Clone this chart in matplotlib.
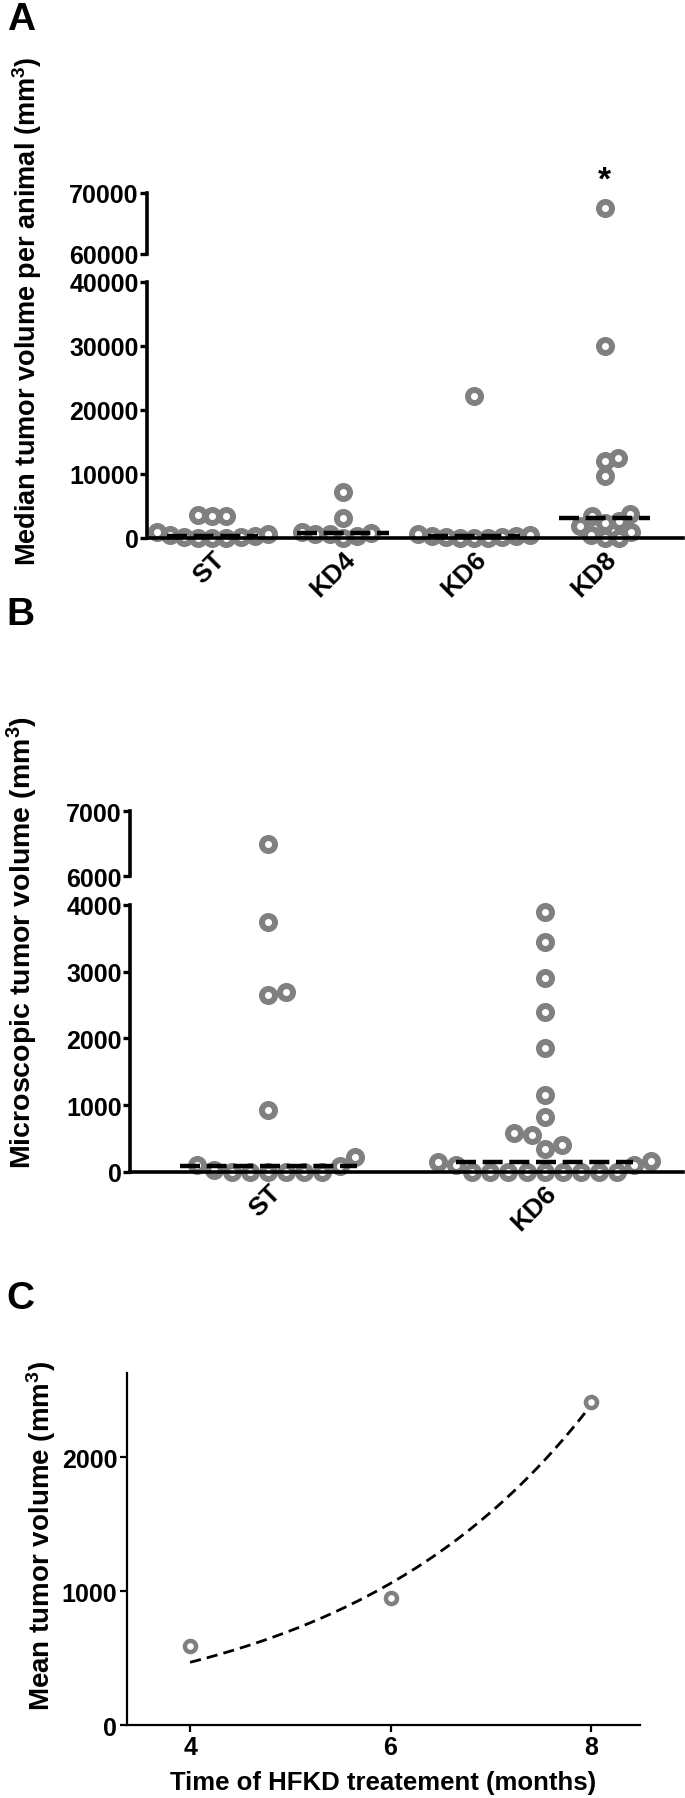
import numpy as np
import matplotlib
matplotlib.use("Agg")
from matplotlib import pyplot as plt

plt.rcParams['font.family'] = ['Liberation Sans', 'DejaVu Sans']
plt.rcParams['font.weight'] = 'bold'
plt.rcParams['mathtext.default'] = 'regular'

# ---- panel A: median tumor volume per animal (mm3)
groups_a = ["ST", "KD4", "KD6", "KD8"]
st_a = [3600, 3400, 3500, 900, 600, 400, 300, 200, 100, 0, 0, 0]
kd4_a = [7200, 3200, 1000, 800, 700, 600, 300, 0]
kd6_a = [22200, 700, 500, 300, 300, 200, 100, 0, 0, 0]
kd8_a = [67500, 30000, 12500, 12000, 9700, 3800, 3500, 2600, 2400, 1800, 1000, 500, 0, 0]
lo_ticks_a = [0, 10000, 20000, 30000, 40000]
hi_ticks_a = [60000, 70000]

# ---- panel B: microscopic tumor volume (mm3)
groups_b = ["ST", "KD6"]
st_b = [6500, 3750, 2700, 2650, 930, 220, 100, 90, 30, 0, 0, 0, 0, 0, 0]
kd6_b = [3900, 3450, 2900, 2400, 1850, 1150, 830, 580, 550, 400, 350, 160, 150, 110, 100,
         0, 0, 0, 0, 0, 0, 0, 0, 0]
lo_ticks_b = [0, 1000, 2000, 3000, 4000]
hi_ticks_b = [6000, 7000]

# ---- panel C: mean tumor volume vs time on HFKD
months = np.array([4, 6, 8])
mean_vol = np.array([590, 950, 2410])

GREY = "#808080"
MS = 9.4      # marker size (pt)
MEW = 4.3     # ring width (pt)
TICK_FS = 18


def swarm(values, px_per_val, px_per_cat, d_px=19.0):
    # simple beeswarm: each point as close to the column centre as it can go
    values = np.asarray(values, dtype=float)
    order = np.argsort(values, kind="stable")
    placed = []
    xs = np.zeros(len(values))
    for i in order:
        y = values[i] * px_per_val
        bad = []
        for px, py in placed:
            dy = abs(py - y)
            if dy < d_px:
                w = np.sqrt(d_px ** 2 - dy ** 2)
                bad.append((px - w, px + w))
        cands = [0.0] + [b[0] for b in bad] + [b[1] for b in bad]
        cands.sort(key=lambda c: (round(abs(c), 6), -c))
        x = 0.0
        for c in cands:
            if all(not (lo + 1e-6 < c < hi - 1e-6) for lo, hi in bad):
                x = c
                break
        placed.append((x, y))
        xs[i] = x / px_per_cat
    return xs


def dots(ax, pos, vals, px_per_val, px_per_cat, d_px=19.0):
    vals = np.asarray(vals, dtype=float)
    xs = swarm(vals, px_per_val, px_per_cat, d_px)
    ax.scatter(pos + xs, vals, s=MS ** 2, facecolors="white", edgecolors=GREY,
               linewidths=MEW, clip_on=False, zorder=2)


def style(ax, bottom=True):
    ax.spines["top"].set_visible(False)
    ax.spines["right"].set_visible(False)
    ax.spines["left"].set_linewidth(2.6)
    ax.spines["bottom"].set_linewidth(2.6)
    ax.spines["bottom"].set_visible(bottom)
    ax.tick_params(axis="y", direction="out", length=5, width=2.4, labelsize=TICK_FS, pad=1)
    ax.tick_params(axis="x", length=0, labelsize=TICK_FS + 1, pad=6)
    ax.set_facecolor("none")


fig = plt.figure(figsize=(6.85, 17.99), dpi=100)

# ================= A =================
axA = fig.add_axes([0.2146, 0.7004, 0.7825, 0.1423])
axA2 = fig.add_axes([0.2146, 0.8583, 0.7825, 0.0339])
style(axA)
style(axA2, bottom=False)
axA.set_ylim(0, 40000)
axA2.set_ylim(60000, 70000)
axA.set_xlim(-0.5, 3.6)
axA2.set_xlim(-0.5, 3.6)
axA.set_yticks(lo_ticks_a)
axA2.set_yticks(hi_ticks_a)
axA2.set_xticks([])

pxA = 256 / 40000.0
for i, vals in enumerate([st_a, kd4_a, kd6_a, kd8_a]):
    vals = np.array(vals, dtype=float)
    lo = vals[vals <= 40000]
    hi = vals[vals > 40000]
    dots(axA, i, lo, pxA, 130.0, d_px=14.0)
    if len(hi):
        dots(axA2, i, hi, pxA, 130.0)
    med = np.median(vals)
    axA.hlines(med, i - 0.35, i + 0.35, colors="black", linewidth=3.2,
               linestyles=(0, (4.5, 1.5)), zorder=4)
axA.set_xticks(range(len(groups_a)))
axA.set_xticklabels(groups_a, rotation=45, ha="right", rotation_mode="anchor")
axA2.text(3, 69600, "*", ha="center", va="bottom", fontsize=24, fontweight="bold")

fig.text(0.040, 0.827, "Median tumor volume per animal (mm$^3$)", rotation=90,
         ha="center", va="center", fontsize=19.5, fontweight="bold")
fig.text(0.010, 0.999, "A", ha="left", va="top", fontsize=28, fontweight="bold")

# ================= B =================
axB = fig.add_axes([0.1898, 0.348, 0.807, 0.1484])
axB2 = fig.add_axes([0.1898, 0.5125, 0.807, 0.0361])
style(axB)
style(axB2, bottom=False)
axB.set_ylim(0, 4000)
axB2.set_ylim(6000, 7000)
axB.set_xlim(-0.5, 1.5)
axB2.set_xlim(-0.5, 1.5)
axB.set_yticks(lo_ticks_b)
axB2.set_yticks(hi_ticks_b)
axB2.set_xticks([])

pxB = 267 / 4000.0
for i, vals in enumerate([st_b, kd6_b]):
    vals = np.array(vals, dtype=float)
    lo = vals[vals <= 4000]
    hi = vals[vals > 4000]
    dots(axB, i, lo, pxB, 275.0, d_px=18.0)
    if len(hi):
        dots(axB2, i, hi, pxB, 275.0)
    med = np.median(vals)
    axB.hlines(med, i - 0.32, i + 0.32, colors="black", linewidth=3.2,
               linestyles=(0, (4.5, 1.5)), zorder=4)
axB.set_xticks(range(len(groups_b)))
axB.set_xticklabels(groups_b, rotation=45, ha="right", rotation_mode="anchor")

fig.text(0.032, 0.476, "Microscopic tumor volume (mm$^3$)", rotation=90,
         ha="center", va="center", fontsize=20.5, fontweight="bold")
fig.text(0.010, 0.668, "B", ha="left", va="top", fontsize=28, fontweight="bold")

# ================= C =================
axC = fig.add_axes([0.1854, 0.0405, 0.749, 0.1960])
axC.spines["top"].set_visible(False)
axC.spines["right"].set_visible(False)
axC.spines["left"].set_linewidth(1.6)
axC.spines["bottom"].set_linewidth(1.6)
axC.tick_params(direction="out", length=5, width=1.6, labelsize=TICK_FS, pad=2)
axC.set_xlim(3.37, 8.49)
axC.set_ylim(0, 2630)
axC.set_xticks([4, 6, 8])
axC.set_yticks([0, 1000, 2000])

# exponential growth fit y = a*exp(b*x), least squares (Gauss-Newton)
b, lna = np.polyfit(months, np.log(mean_vol), 1)
a = np.exp(lna)
for _ in range(60):
    e = np.exp(b * months)
    f = a * e
    J = np.column_stack([e, a * months * e])
    step = np.linalg.lstsq(J, mean_vol - f, rcond=None)[0]
    a += step[0]
    b += step[1]
xx = np.linspace(months.min(), months.max(), 200)
axC.plot(xx, a * np.exp(b * xx), color="black", linewidth=2.0,
         linestyle=(0, (4, 2.2)), zorder=3)
axC.scatter(months, mean_vol, s=8.0 ** 2, facecolors="white", edgecolors=GREY,
            linewidths=3.2, clip_on=False, zorder=4)

axC.set_xlabel("Time of HFKD treatement (months)", fontsize=18.5, fontweight="bold", labelpad=8)
fig.text(0.060, 0.146, "Mean tumor volume (mm$^3$)", rotation=90,
         ha="center", va="center", fontsize=20, fontweight="bold")
fig.text(0.010, 0.288, "C", ha="left", va="top", fontsize=28, fontweight="bold")

fig.savefig("out.png", dpi=100)
